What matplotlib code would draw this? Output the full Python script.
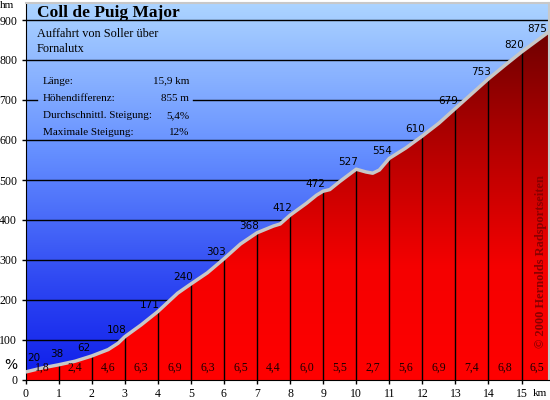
import matplotlib.pyplot as plt
import numpy as np
from matplotlib.colors import LinearSegmentedColormap
from matplotlib.patches import Polygon

# Profil: Kilometer und Hoehe (hm)
km = [0, 0.5, 1, 1.5, 2, 2.5, 2.8, 3, 3.5, 4, 4.3, 4.6, 5, 5.5, 6, 6.5, 7, 7.5, 7.7,
      8, 8.5, 8.8, 9, 9.2, 9.5, 10, 10.3, 10.5, 10.7, 11, 11.5, 12, 12.5, 13, 13.5,
      14, 14.5, 15, 15.9]
hm = [20, 30, 38, 47, 60, 76, 92, 108, 138, 171, 194, 217, 240, 268, 303, 340, 368, 385, 390,
      412, 442, 462, 472, 476, 496, 527, 520, 517, 525, 554, 580, 610, 642, 679, 716,
      753, 787, 820, 875]

# Beschriftungen je Kilometer
mark_km = [0, 1, 2, 3, 4, 5, 6, 7, 8, 9, 10, 11, 12, 13, 14, 15, 15.9]
mark_hm = [20, 38, 62, 108, 171, 240, 303, 368, 412, 472, 527, 554, 610, 679, 753, 820, 875]
grades = ["1,8", "2,4", "4,6", "6,3", "6,9", "6,3", "6,5", "4,4", "6,0", "5,5", "2,7",
          "5,6", "6,9", "7,4", "6,8", "6,5"]

info_labels = ["Länge:", "Höhendifferenz:", "Durchschnittl. Steigung:", "Maximale Steigung:"]
info_values = ["15,9 km", "855 m", "5,4%", "12%"]

W, H = 550, 400
fig = plt.figure(figsize=(5.5, 4), dpi=100)
fig.patch.set_facecolor("white")

# pixel geometry of the plot box
px_left, px_right, px_top, px_bottom = 25.5, 549, 3, 380
px_per_km = 33.07
px_per_hm = 0.4
xmax = (px_right - px_left) / px_per_km
ymax = (px_bottom - px_top) / px_per_hm

ax = fig.add_axes([px_left / W, (H - px_bottom) / H,
                   (px_right - px_left) / W, (px_bottom - px_top) / H])
ax.set_xlim(0, xmax)
ax.set_ylim(0, ymax)

# blue background gradient
blue = LinearSegmentedColormap.from_list("blue", [
    (0.0, (15/255, 30/255, 235/255)),
    (0.25, (45/255, 70/255, 242/255)),
    (0.6, (100/255, 142/255, 255/255)),
    (1.0, (172/255, 212/255, 255/255))])
grad = np.linspace(0, 1, 256).reshape(-1, 1)
ax.imshow(grad, cmap=blue, origin="lower", extent=[0, xmax, 0, ymax],
          aspect="auto", zorder=0)

# horizontal grid lines (behind the profile)
serif = "Liberation Serif"
for y in range(100, 1000, 100):
    if y == 700:
        ax.plot([0, 0.35], [y, y], color="black", lw=1, zorder=1)
        ax.plot([5.06, xmax], [y, y], color="black", lw=1, zorder=1)
    else:
        ax.axhline(y, color="black", lw=1, zorder=1)

# red profile fill with vertical gradient
red = LinearSegmentedColormap.from_list("red", [
    (0.0, (1.0, 0.0, 0.0)),
    (0.3, (0.96, 0.0, 0.0)),
    (0.6, (0.72, 0.0, 0.0)),
    (0.93, (0.43, 0.0, 0.0)),
    (1.0, (0.40, 0.0, 0.0))])
poly = Polygon(list(zip([0] + km + [km[-1]], [0] + hm + [0])), closed=True,
               facecolor="none", edgecolor="none")
ax.add_patch(poly)
im = ax.imshow(grad, cmap=red, origin="lower", extent=[0, xmax, 0, ymax],
               aspect="auto", zorder=2)
im.set_clip_path(poly)

# km lines
for k in range(1, 16):
    ax.plot([k, k], [0, np.interp(k, km, hm)], color="black", lw=1, zorder=3)

# profile outline
ax.plot(km, hm, color="#c8c8c8", lw=2.5, zorder=4, solid_capstyle="butt")

# elevation labels
for i, (k, h) in enumerate(zip(mark_km, mark_hm)):
    off = (-5.5, 5)
    if i == 0:
        off = (6, 10)
    elif i == 1:
        off = (-1, 8)
    elif i == len(mark_km) - 1:
        off = (-10, 1)
    ax.annotate(str(h), (k, h), xytext=off, textcoords="offset points",
                ha="center", va="center", fontsize=7.5, family="DejaVu Sans",
                color="black", zorder=5, annotation_clip=False)

# gradient labels
for i, g in enumerate(grades):
    xc = (mark_km[i] + mark_km[i + 1]) / 2
    ax.text(xc, 30, g, ha="center", va="center", fontsize=8.5, family=serif,
            color="#1a0000", zorder=5)

# copyright
ax.text(15.59, 295, "© 2000 Hernolds Radsportseiten", rotation=90, ha="center",
        va="center", fontsize=9, family=serif, weight="bold", color="#8a0000", zorder=5)

# axes styling
ax.set_xticks(range(0, 16))
ax.set_yticks(range(0, 1000, 100))
ax.tick_params(direction="out", length=3, width=1, color="black", labelsize=8.5, pad=3)
for lab in ax.get_xticklabels() + ax.get_yticklabels():
    lab.set_family(serif)
ax.spines["left"].set_color("black")
ax.spines["bottom"].set_color("black")
ax.spines["top"].set_color("#c8c8c8")
ax.spines["right"].set_color("#c8c8c8")
ax.spines["top"].set_linewidth(1.5)
ax.spines["right"].set_linewidth(1.5)

# texts
def ftext(x, y, s, **kw):
    fig.text(x / W, 1 - y / H, s, **kw)

ftext(0, 6, "hm", fontsize=8, family=serif, va="center")
ftext(4, 365, "%", fontsize=10, family="DejaVu Sans", va="center")
ftext(533, 393, "km", fontsize=8, family=serif, va="center")
ftext(37, 13, "Coll de Puig Major", fontsize=12.5, family=serif, weight="bold", va="center")
ftext(37, 34, "Auffahrt von Soller über", fontsize=8.8, family=serif, va="center")
ftext(37, 49, "Fornalutx", fontsize=8.8, family=serif, va="center")
for i, (l, v) in enumerate(zip(info_labels, info_values)):
    y = 81 + i * 17.3
    ftext(43, y, l, fontsize=8, family=serif, va="center")
    ftext(189, y, v, fontsize=8, family=serif, va="center", ha="right")

fig.savefig("out.png", dpi=100)
